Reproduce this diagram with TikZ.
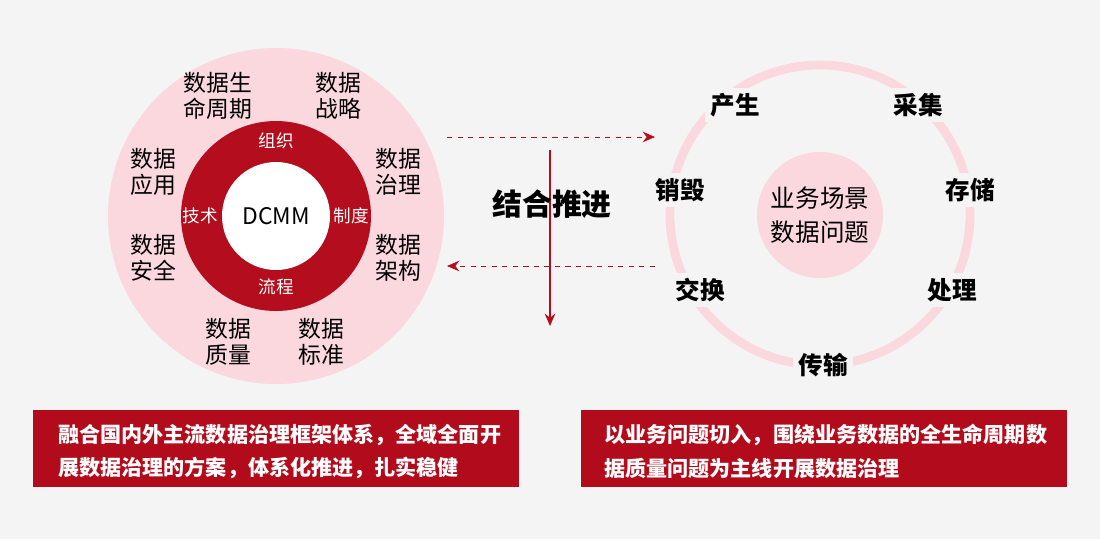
\documentclass[tikz,border=0pt]{standalone}
\usepackage{fontspec}
\usetikzlibrary{arrows.meta}
\setmainfont{Noto Sans CJK SC}
\definecolor{bg}{RGB}{244,244,244}
\definecolor{rose}{RGB}{250,216,221}
\definecolor{ringred}{RGB}{180,14,30}
\definecolor{boxred}{RGB}{178,12,28}
\tikzset{
  lbl/.style={align=center,font=\fontsize{13}{15}\selectfont,inner sep=1pt},
  ringlbl/.style={text=white,font=\fontsize{10}{12}\selectfont,inner sep=1pt},
  stage/.style={font=\bfseries\fontsize{14}{16}\selectfont,fill=bg,inner sep=3pt},
  note/.style={text=white,font=\bfseries\fontsize{12}{19}\selectfont,align=left,anchor=north west,inner sep=0pt},
  arr/.style={ringred,-{Stealth[length=7pt,width=6pt]}}
}
\begin{document}
\begin{tikzpicture}[x=0.02cm,y=-0.02cm]
  \fill[bg] (0,0) rectangle (1100,539);
  \useasboundingbox (0,0) rectangle (1100,539);

  % left circle
  \fill[rose] (276,216) circle (168);
  \fill[ringred] (276,216) circle (95);
  \fill[white] (276,216) circle (54);
  \node[font=\fontsize{13}{15}\selectfont] (dcmm) at (276,216) {DCMM};
  \node[ringlbl] (org) at (276,141) {组织};
  \node[ringlbl] (sys) at (351,216) {制度};
  \node[ringlbl] (proc) at (276,287) {流程};
  \node[ringlbl] (tech) at (200,216) {技术};

  \node[lbl] (life) at (218,96) {数据生\\命周期};
  \node[lbl] (strat) at (338,96) {数据\\战略};
  \node[lbl] (gov) at (398,172) {数据\\治理};
  \node[lbl] (arch) at (398,258) {数据\\架构};
  \node[lbl] (std) at (321,342) {数据\\标准};
  \node[lbl] (qual) at (228,342) {数据\\质量};
  \node[lbl] (sec) at (153,258) {数据\\安全};
  \node[lbl] (app) at (153,172) {数据\\应用};

  % right circle
  \draw[rose,line width=5pt] (820,215) circle (150);
  \fill[rose] (820,215) circle (63);
  \node[align=center,font=\fontsize{14}{19}\selectfont] (scene) at (820,215) {业务场景\\数据问题};
  \node[stage] (gen) at (735,105) {产生};
  \node[stage] (coll) at (918,105) {采集};
  \node[stage] (store) at (970,190) {存储};
  \node[stage] (handle) at (952,290) {处理};
  \node[stage] (trans) at (823,365) {传输};
  \node[stage] (swap) at (700,290) {交换};
  \node[stage] (destroy) at (680,190) {销毁};

  % arrows
  \coordinate (a1) at (447,137);
  \coordinate (b1) at (655,137);
  \coordinate (a2) at (655,266);
  \coordinate (b2) at (447,266);
  \coordinate (v1) at (550,150);
  \coordinate (v2) at (550,326);
  \draw[arr,dashed] (a1) -- (b1);
  \draw[arr,dashed] (a2) -- (b2);
  \draw[arr,line width=1.2pt] (v1) -- (v2);
  \node[font=\bfseries\fontsize{17}{20}\selectfont,inner sep=0pt] (push) at (552,204) {结合推进};

  % notes
  \fill[boxred] (33,410) rectangle (519,487);
  \node[note] (lnote) at (58,424) {融合国内外主流数据治理框架体系，全域全面开\\展数据治理的方案，体系化推进，扎实稳健};
  \fill[boxred] (581,410) rectangle (1067,487);
  \node[note] (rnote) at (604,424) {以业务问题切入，围绕业务数据的全生命周期数\\据质量问题为主线开展数据治理};
\end{tikzpicture}
\end{document}
